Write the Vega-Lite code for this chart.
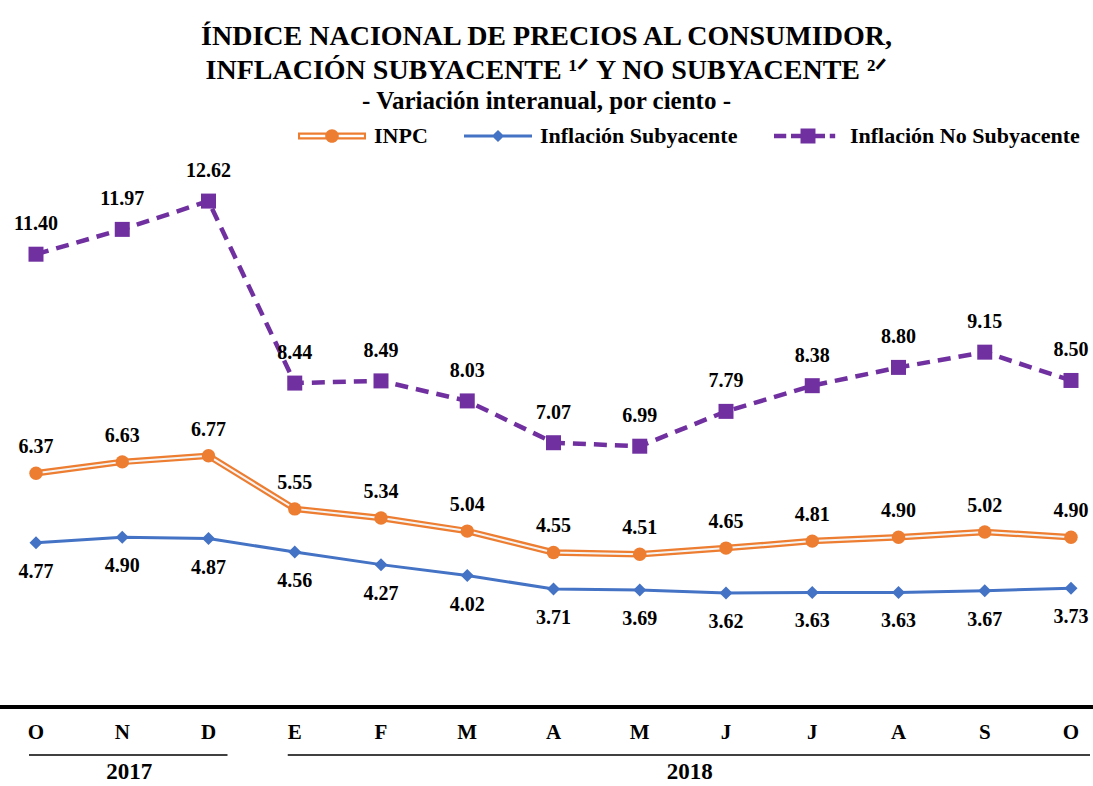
{
  "$schema": "https://vega.github.io/schema/vega-lite/v6.json",
  "width": 1093,
  "height": 566,
  "autosize": {"type": "none"},
  "padding": {"top": 141, "left": 0, "right": 0, "bottom": 79},
  "background": "white",
  "config": {"view": {"stroke": null}},
  "title": {
    "text": ["ÍNDICE NACIONAL DE PRECIOS AL CONSUMIDOR,", "INFLACIÓN SUBYACENTE ¹ᐟ Y NO SUBYACENTE ²ᐟ"],
    "subtitle": "- Variación interanual, por ciento -",
    "font": "serif",
    "fontSize": 28,
    "fontWeight": "bold",
    "color": "black",
    "lineHeight": 34,
    "subtitleFont": "serif",
    "subtitleFontSize": 25,
    "subtitleFontWeight": "bold",
    "subtitleColor": "black",
    "subtitlePadding": 4,
    "anchor": "middle",
    "offset": -12
  },
  "datasets": {
    "main": [
      {"n": 0, "m": "O", "anio": "2017", "serie": "INPC", "valor": 6.37},
      {"n": 1, "m": "N", "anio": "2017", "serie": "INPC", "valor": 6.63},
      {"n": 2, "m": "D", "anio": "2017", "serie": "INPC", "valor": 6.77},
      {"n": 3, "m": "E", "anio": "2018", "serie": "INPC", "valor": 5.55},
      {"n": 4, "m": "F", "anio": "2018", "serie": "INPC", "valor": 5.34},
      {"n": 5, "m": "M", "anio": "2018", "serie": "INPC", "valor": 5.04},
      {"n": 6, "m": "A", "anio": "2018", "serie": "INPC", "valor": 4.55},
      {"n": 7, "m": "M", "anio": "2018", "serie": "INPC", "valor": 4.51},
      {"n": 8, "m": "J", "anio": "2018", "serie": "INPC", "valor": 4.65},
      {"n": 9, "m": "J", "anio": "2018", "serie": "INPC", "valor": 4.81},
      {"n": 10, "m": "A", "anio": "2018", "serie": "INPC", "valor": 4.90},
      {"n": 11, "m": "S", "anio": "2018", "serie": "INPC", "valor": 5.02},
      {"n": 12, "m": "O", "anio": "2018", "serie": "INPC", "valor": 4.90},
      {"n": 0, "m": "O", "anio": "2017", "serie": "Inflación Subyacente", "valor": 4.77},
      {"n": 1, "m": "N", "anio": "2017", "serie": "Inflación Subyacente", "valor": 4.90},
      {"n": 2, "m": "D", "anio": "2017", "serie": "Inflación Subyacente", "valor": 4.87},
      {"n": 3, "m": "E", "anio": "2018", "serie": "Inflación Subyacente", "valor": 4.56},
      {"n": 4, "m": "F", "anio": "2018", "serie": "Inflación Subyacente", "valor": 4.27},
      {"n": 5, "m": "M", "anio": "2018", "serie": "Inflación Subyacente", "valor": 4.02},
      {"n": 6, "m": "A", "anio": "2018", "serie": "Inflación Subyacente", "valor": 3.71},
      {"n": 7, "m": "M", "anio": "2018", "serie": "Inflación Subyacente", "valor": 3.69},
      {"n": 8, "m": "J", "anio": "2018", "serie": "Inflación Subyacente", "valor": 3.62},
      {"n": 9, "m": "J", "anio": "2018", "serie": "Inflación Subyacente", "valor": 3.63},
      {"n": 10, "m": "A", "anio": "2018", "serie": "Inflación Subyacente", "valor": 3.63},
      {"n": 11, "m": "S", "anio": "2018", "serie": "Inflación Subyacente", "valor": 3.67},
      {"n": 12, "m": "O", "anio": "2018", "serie": "Inflación Subyacente", "valor": 3.73},
      {"n": 0, "m": "O", "anio": "2017", "serie": "Inflación No Subyacente", "valor": 11.40},
      {"n": 1, "m": "N", "anio": "2017", "serie": "Inflación No Subyacente", "valor": 11.97},
      {"n": 2, "m": "D", "anio": "2017", "serie": "Inflación No Subyacente", "valor": 12.62},
      {"n": 3, "m": "E", "anio": "2018", "serie": "Inflación No Subyacente", "valor": 8.44},
      {"n": 4, "m": "F", "anio": "2018", "serie": "Inflación No Subyacente", "valor": 8.49},
      {"n": 5, "m": "M", "anio": "2018", "serie": "Inflación No Subyacente", "valor": 8.03},
      {"n": 6, "m": "A", "anio": "2018", "serie": "Inflación No Subyacente", "valor": 7.07},
      {"n": 7, "m": "M", "anio": "2018", "serie": "Inflación No Subyacente", "valor": 6.99},
      {"n": 8, "m": "J", "anio": "2018", "serie": "Inflación No Subyacente", "valor": 7.79},
      {"n": 9, "m": "J", "anio": "2018", "serie": "Inflación No Subyacente", "valor": 8.38},
      {"n": 10, "m": "A", "anio": "2018", "serie": "Inflación No Subyacente", "valor": 8.80},
      {"n": 11, "m": "S", "anio": "2018", "serie": "Inflación No Subyacente", "valor": 9.15},
      {"n": 12, "m": "O", "anio": "2018", "serie": "Inflación No Subyacente", "valor": 8.50}
    ]
  },
  "data": {"name": "main"},
  "layer": [
    {
      "mark": {"type": "rule", "color": "black", "strokeWidth": 3},
      "encoding": {"y": {"datum": 1, "type": "quantitative", "scale": {"domain": [1, 14], "nice": false, "zero": false}, "axis": null}}
    },
    {
      "transform": [{"filter": "datum.serie == 'Inflación No Subyacente'"}],
      "mark": {"type": "line", "color": "#7030A0", "strokeWidth": 4.5, "strokeDash": [13, 8]},
      "encoding": {
        "x": {"field": "n", "type": "quantitative", "scale": {"domain": [-0.4174, 12.2551], "nice": false, "zero": false}, "axis": null},
        "y": {"field": "valor", "type": "quantitative"}
      }
    },
    {
      "transform": [{"filter": "datum.serie == 'Inflación Subyacente'"}],
      "mark": {"type": "line", "color": "#4472C4", "strokeWidth": 3},
      "encoding": {"x": {"field": "n", "type": "quantitative"}, "y": {"field": "valor", "type": "quantitative"}}
    },
    {
      "transform": [{"filter": "datum.serie == 'INPC'"}],
      "mark": {"type": "line", "color": "#ED7D31", "strokeWidth": 6.5},
      "encoding": {"x": {"field": "n", "type": "quantitative"}, "y": {"field": "valor", "type": "quantitative"}}
    },
    {
      "transform": [{"filter": "datum.serie == 'INPC'"}],
      "mark": {"type": "line", "color": "#F4F4F4", "strokeWidth": 2},
      "encoding": {"x": {"field": "n", "type": "quantitative"}, "y": {"field": "valor", "type": "quantitative"}}
    },
    {
      "transform": [{"filter": "datum.serie == 'Inflación No Subyacente'"}],
      "mark": {"type": "point", "shape": "square", "filled": true, "color": "#7030A0", "size": 225, "opacity": 1},
      "encoding": {"x": {"field": "n", "type": "quantitative"}, "y": {"field": "valor", "type": "quantitative"}}
    },
    {
      "transform": [{"filter": "datum.serie == 'Inflación Subyacente'"}],
      "mark": {"type": "point", "shape": "diamond", "filled": true, "color": "#4472C4", "size": 169, "opacity": 1},
      "encoding": {"x": {"field": "n", "type": "quantitative"}, "y": {"field": "valor", "type": "quantitative"}}
    },
    {
      "transform": [{"filter": "datum.serie == 'INPC'"}],
      "mark": {"type": "point", "shape": "circle", "filled": true, "color": "#ED7D31", "size": 180, "opacity": 1},
      "encoding": {"x": {"field": "n", "type": "quantitative"}, "y": {"field": "valor", "type": "quantitative"}}
    },
    {
      "transform": [{"filter": "datum.serie == 'Inflación No Subyacente'"}],
      "mark": {"type": "text", "font": "serif", "fontSize": 20, "fontWeight": "bold", "color": "black", "dy": -30, "baseline": "middle"},
      "encoding": {"x": {"field": "n", "type": "quantitative"}, "y": {"field": "valor", "type": "quantitative"}, "text": {"field": "valor", "type": "quantitative", "format": ".2f"}}
    },
    {
      "transform": [{"filter": "datum.serie == 'INPC'"}],
      "mark": {"type": "text", "font": "serif", "fontSize": 20, "fontWeight": "bold", "color": "black", "dy": -26, "baseline": "middle"},
      "encoding": {"x": {"field": "n", "type": "quantitative"}, "y": {"field": "valor", "type": "quantitative"}, "text": {"field": "valor", "type": "quantitative", "format": ".2f"}}
    },
    {
      "transform": [{"filter": "datum.serie == 'Inflación Subyacente'"}],
      "mark": {"type": "text", "font": "serif", "fontSize": 20, "fontWeight": "bold", "color": "black", "dy": 29, "baseline": "middle"},
      "encoding": {"x": {"field": "n", "type": "quantitative"}, "y": {"field": "valor", "type": "quantitative"}, "text": {"field": "valor", "type": "quantitative", "format": ".2f"}}
    },
    {
      "transform": [{"filter": "datum.serie == 'INPC'"}],
      "mark": {"type": "text", "font": "serif", "fontSize": 21, "fontWeight": "bold", "color": "black", "dy": 26, "baseline": "middle"},
      "encoding": {"x": {"field": "n", "type": "quantitative"}, "y": {"datum": 1, "type": "quantitative"}, "text": {"field": "m"}}
    },
    {
      "transform": [
        {"filter": "datum.serie == 'INPC'"},
        {"aggregate": [{"op": "min", "field": "n", "as": "ini"}, {"op": "max", "field": "n", "as": "fin"}, {"op": "mean", "field": "n", "as": "centro"}], "groupby": ["anio"]}
      ],
      "layer": [
        {
          "mark": {"type": "rule", "color": "black", "strokeWidth": 1.5, "yOffset": 48, "xOffset": -7, "x2Offset": 19},
          "encoding": {"x": {"field": "ini", "type": "quantitative"}, "x2": {"field": "fin"}, "y": {"datum": 1, "type": "quantitative"}}
        },
        {
          "mark": {"type": "text", "font": "serif", "fontSize": 23, "fontWeight": "bold", "color": "black", "dy": 65, "dx": 7, "baseline": "middle"},
          "encoding": {"x": {"field": "centro", "type": "quantitative"}, "y": {"datum": 1, "type": "quantitative"}, "text": {"field": "anio"}}
        }
      ]
    },
    {
      "transform": [{"filter": "datum.valor > 100"}],
      "mark": {"type": "point", "filled": true, "size": 4624, "opacity": 1, "strokeWidth": 0},
      "encoding": {
        "color": {
          "field": "serie", "type": "nominal",
          "scale": {"domain": ["INPC", "Inflación Subyacente", "Inflación No Subyacente"], "range": ["#ED7D31", "#4472C4", "#7030A0"]},
          "legend": {
            "title": null, "orient": "none", "legendX": 298, "legendY": -39, "direction": "horizontal",
            "labelFont": "serif", "labelFontSize": 22, "labelFontWeight": "bold", "labelColor": "black",
            "labelLimit": 400, "labelOffset": 8, "columnPadding": 36, "padding": 0, "symbolStrokeWidth": 0, "symbolSize": 4624, "symbolOpacity": 1
          }
        },
        "shape": {
          "field": "serie", "type": "nominal",
          "scale": {"domain": ["INPC", "Inflación Subyacente", "Inflación No Subyacente"], "range": [
            "M-1,-0.1H1V0.1H-1Z M-0.94,-0.035V0.035H0.94V-0.035Z M0.2,0A0.2,0.2,0,1,1,-0.2,0A0.2,0.2,0,1,1,0.2,0Z",
            "M-1,-0.044H1V0.044H-1Z M0,-0.18L0.18,0L0,0.18L-0.18,0Z",
            "M-1,-0.066H-0.64V0.066H-1Z M-0.5,-0.066H0.5V0.066H-0.5Z M0.64,-0.066H0.8V0.066H0.64Z M-0.22,-0.22H0.22V0.22H-0.22Z"
          ]},
          "legend": {
            "title": null, "orient": "none", "legendX": 298, "legendY": -39, "direction": "horizontal",
            "labelFont": "serif", "labelFontSize": 22, "labelFontWeight": "bold", "labelColor": "black",
            "labelLimit": 400, "labelOffset": 8, "columnPadding": 36, "padding": 0, "symbolStrokeWidth": 0, "symbolSize": 4624, "symbolOpacity": 1
          }
        }
      }
    }
  ]
}
